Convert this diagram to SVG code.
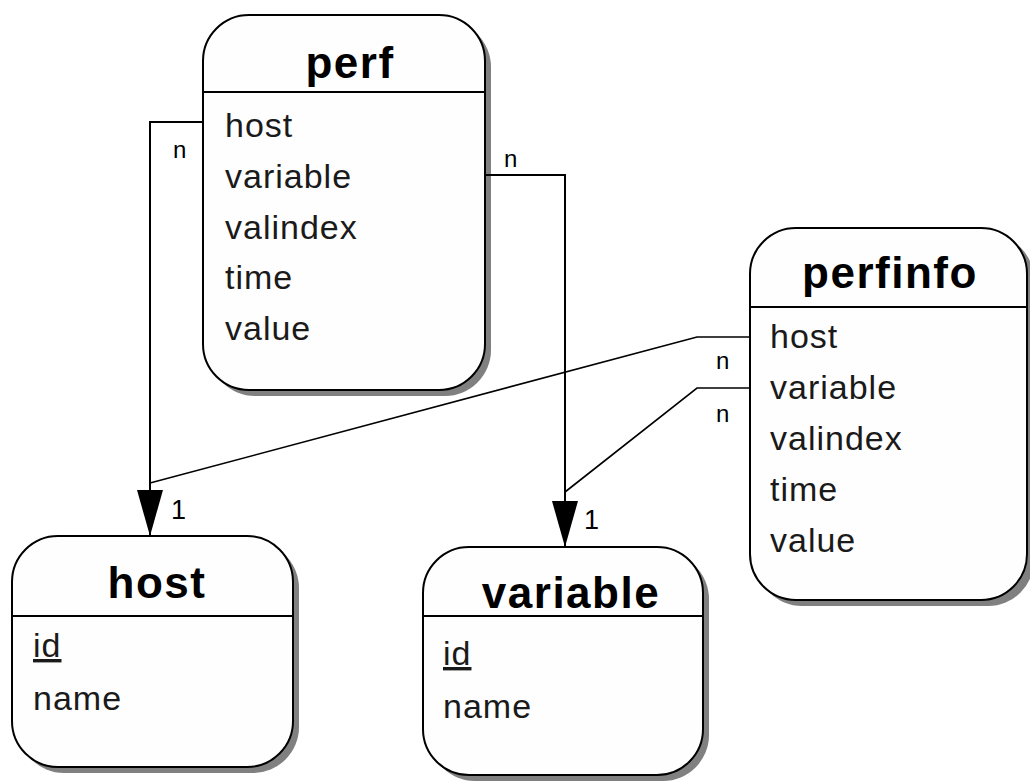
<svg xmlns="http://www.w3.org/2000/svg" width="1030" height="783" viewBox="0 0 1030 783">
  <style>
    .shadow { fill: #808080; stroke: none; }
    .box { fill: #fefefe; stroke: #000; stroke-width: 2; }
    .sep { stroke: #000; stroke-width: 2; }
    .title { font-family: "Liberation Sans", Arial, sans-serif; font-weight: bold; font-size: 44px; letter-spacing: 1.5px; fill: #000; text-anchor: middle; }
    .field { font-family: "Liberation Sans", Arial, sans-serif; font-size: 34px; letter-spacing: 1px; fill: #1a1a1a; }
    .key { text-decoration: underline; }
    .edge { fill: none; stroke: #000; stroke-width: 2; }
    .edge-thin { fill: none; stroke: #000; stroke-width: 1.6; }
    .card { font-family: "Liberation Sans", Arial, sans-serif; font-size: 24px; fill: #000; }
    .one { font-size: 27px; }
  </style>
  <defs>
    <marker id="arrow" markerUnits="userSpaceOnUse" markerWidth="46" markerHeight="28" viewBox="0 -14 46 28" refX="46" refY="0" orient="auto">
      <path d="M0,-13 L46,0 L0,13 Z" fill="#000"/>
    </marker>
  </defs>
  <rect width="1030" height="783" fill="#fff"/>

  <!-- perf table -->
  <g id="perf">
    <rect class="shadow" x="209" y="21" width="282" height="375" rx="46" ry="46"/>
    <rect class="box" x="203" y="15" width="282" height="375" rx="46" ry="46"/>
    <line class="sep" x1="203" y1="92" x2="485" y2="92"/>
    <text class="title" x="350" y="78">perf</text>
    <text class="field" x="225" y="137">host</text>
    <text class="field" x="225" y="188">variable</text>
    <text class="field" x="225" y="239">valindex</text>
    <text class="field" x="225" y="289">time</text>
    <text class="field" x="225" y="340">value</text>
  </g>

  <!-- perfinfo table -->
  <g id="perfinfo">
    <rect class="shadow" x="756" y="234" width="278" height="372" rx="46" ry="46"/>
    <rect class="box" x="750" y="228" width="277" height="372" rx="46" ry="46"/>
    <line class="sep" x1="750" y1="307" x2="1027" y2="307"/>
    <text class="title" x="890" y="288">perfinfo</text>
    <text class="field" x="770" y="348">host</text>
    <text class="field" x="770" y="399">variable</text>
    <text class="field" x="770" y="450">valindex</text>
    <text class="field" x="770" y="501">time</text>
    <text class="field" x="770" y="552">value</text>
  </g>

  <!-- host table -->
  <g id="host">
    <rect class="shadow" x="18" y="542" width="281" height="231" rx="46" ry="46"/>
    <rect class="box" x="12" y="536" width="281" height="231" rx="46" ry="46"/>
    <line class="sep" x1="12" y1="616" x2="293" y2="616"/>
    <text class="title" x="157" y="598">host</text>
    <text class="field key" x="33" y="657">id</text>
    <text class="field" x="33" y="710">name</text>
  </g>

  <!-- variable table -->
  <g id="variable">
    <rect class="shadow" x="429" y="553" width="280" height="228" rx="46" ry="46"/>
    <rect class="box" x="423" y="547" width="280" height="228" rx="46" ry="46"/>
    <line class="sep" x1="423" y1="616" x2="703" y2="616"/>
    <text class="title" x="571" y="608">variable</text>
    <text class="field key" x="443" y="665">id</text>
    <text class="field" x="443" y="718">name</text>
  </g>

  <!-- relationships -->
  <g id="connectors">
    <path class="edge" d="M203,122 H150 V536" marker-end="url(#arrow)"/>
    <path class="edge" d="M485,175 H565 V547" marker-end="url(#arrow)"/>
    <path class="edge-thin" d="M750,337 H697 L150,483"/>
    <path class="edge-thin" d="M750,388 H697 L565,492"/>
    <text class="card" x="173" y="158">n</text>
    <text class="card" x="504" y="167">n</text>
    <text class="card" x="716" y="369">n</text>
    <text class="card" x="716" y="422">n</text>
    <text class="card one" x="171" y="519">1</text>
    <text class="card one" x="584" y="529">1</text>
  </g>
</svg>
